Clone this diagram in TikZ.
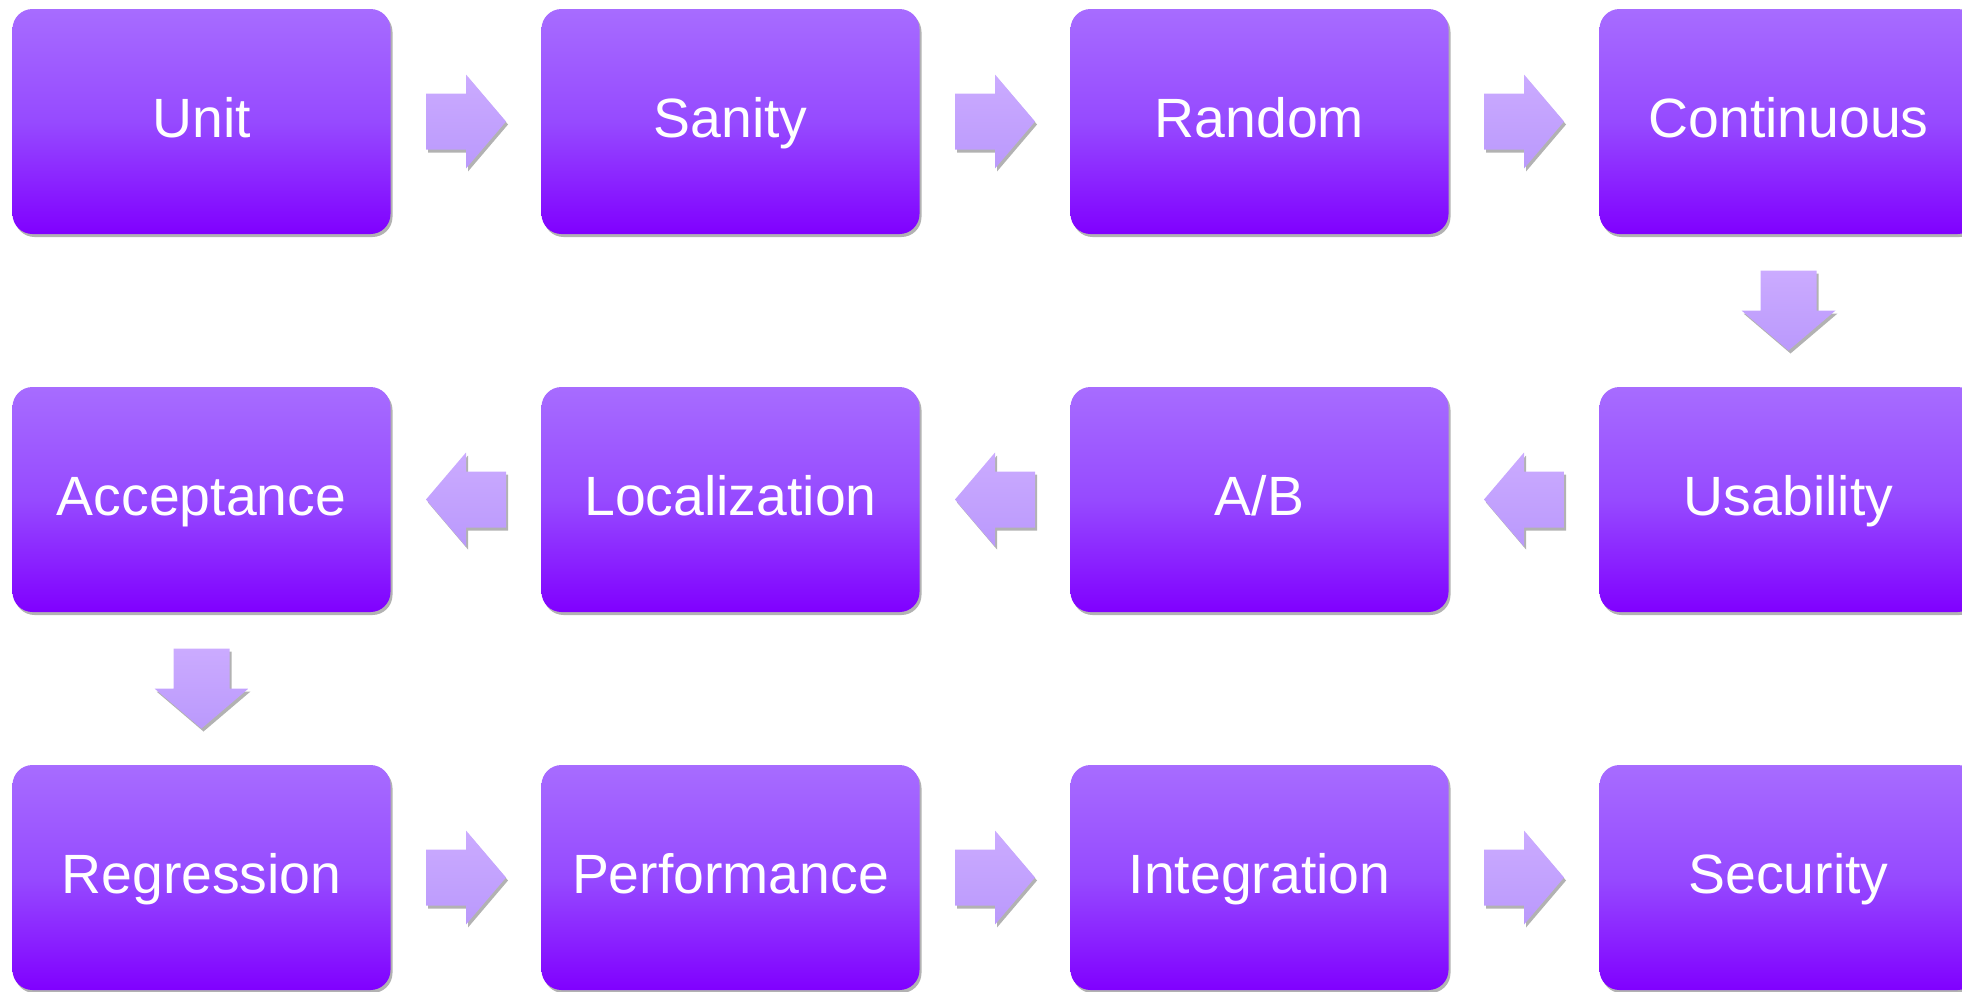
\documentclass[tikz,border=0pt]{standalone}
\usepackage{fontspec}
\setmainfont{Liberation Sans}
\usetikzlibrary{positioning, calc, shadows}
\definecolor{boxTop}{RGB}{167, 108, 255}
\definecolor{boxMid}{RGB}{150, 74, 255}
\definecolor{boxBottom}{RGB}{128, 0, 255}
\definecolor{arrowTop}{RGB}{203, 171, 255}
\definecolor{arrowBottom}{RGB}{186, 153, 252}

\tikzset{
    softshadow/.style={drop shadow={shadow xshift=0.04cm, shadow yshift=-0.06cm, opacity=0.3, fill=black}},
    harrow/.pic={\shade[top color=arrowTop, bottom color=arrowBottom, softshadow] (-0.8,0.56) -- (0,0.56) -- (0,0.94) -- (0.8,0) -- (0,-0.94) -- (0,-0.56) -- (-0.8,-0.56) -- cycle;},
    varrow/.pic={\shade[top color=arrowTop, bottom color=arrowBottom, softshadow] (-0.56,0.8) -- (0.56,0.8) -- (0.56,0) -- (0.94,0) -- (0,-0.8) -- (-0.94,0) -- (-0.56,0) -- cycle;}
}

\begin{document}
\begin{tikzpicture}[
    node distance=3.06cm and 3.02cm,
    testbox/.style={rectangle, rounded corners=0.4cm, minimum width=7.56cm, minimum height=4.5cm, inner sep=2pt, outer sep=0pt, text height=0.9cm, text depth=0.26cm, top color=boxTop, bottom color=boxBottom, middle color=boxMid, text=white, font=\fontsize{31.5}{36}\selectfont, softshadow}
]
    \useasboundingbox (0,0) rectangle (39.24,-19.82);

    % Nodes
    \node[testbox] (unit) at (4.03,-2.43) {Unit};
    \node[testbox, right=of unit] (sanity) {Sanity};
    \node[testbox, right=of sanity] (random) {Random};
    \node[testbox, right=of random] (continuous) {Continuous};

    \node[testbox, below=of continuous] (usability) {Usability};
    \node[testbox, left=of usability] (ab) {A/B};
    \node[testbox, left=of ab] (localization) {Localization};
    \node[testbox, left=of localization] (acceptance) {Acceptance};

    \node[testbox, below=of acceptance] (regression) {Regression};
    \node[testbox, right=of regression] (performance) {Performance};
    \node[testbox, right=of performance] (integration) {Integration};
    \node[testbox, right=of integration] (security) {Security};

    % Links
    \pic at ($(unit.east)!0.5!(sanity.west)$) {harrow};
    \pic at ($(sanity.east)!0.5!(random.west)$) {harrow};
    \pic at ($(random.east)!0.5!(continuous.west)$) {harrow};
    \pic at ($(continuous.south)!0.5!(usability.north)$) {varrow};
    \pic[xscale=-1] at ($(usability.west)!0.5!(ab.east)$) {harrow};
    \pic[xscale=-1] at ($(ab.west)!0.5!(localization.east)$) {harrow};
    \pic[xscale=-1] at ($(localization.west)!0.5!(acceptance.east)$) {harrow};
    \pic at ($(acceptance.south)!0.5!(regression.north)$) {varrow};
    \pic at ($(regression.east)!0.5!(performance.west)$) {harrow};
    \pic at ($(performance.east)!0.5!(integration.west)$) {harrow};
    \pic at ($(integration.east)!0.5!(security.west)$) {harrow};
\end{tikzpicture}
\end{document}
